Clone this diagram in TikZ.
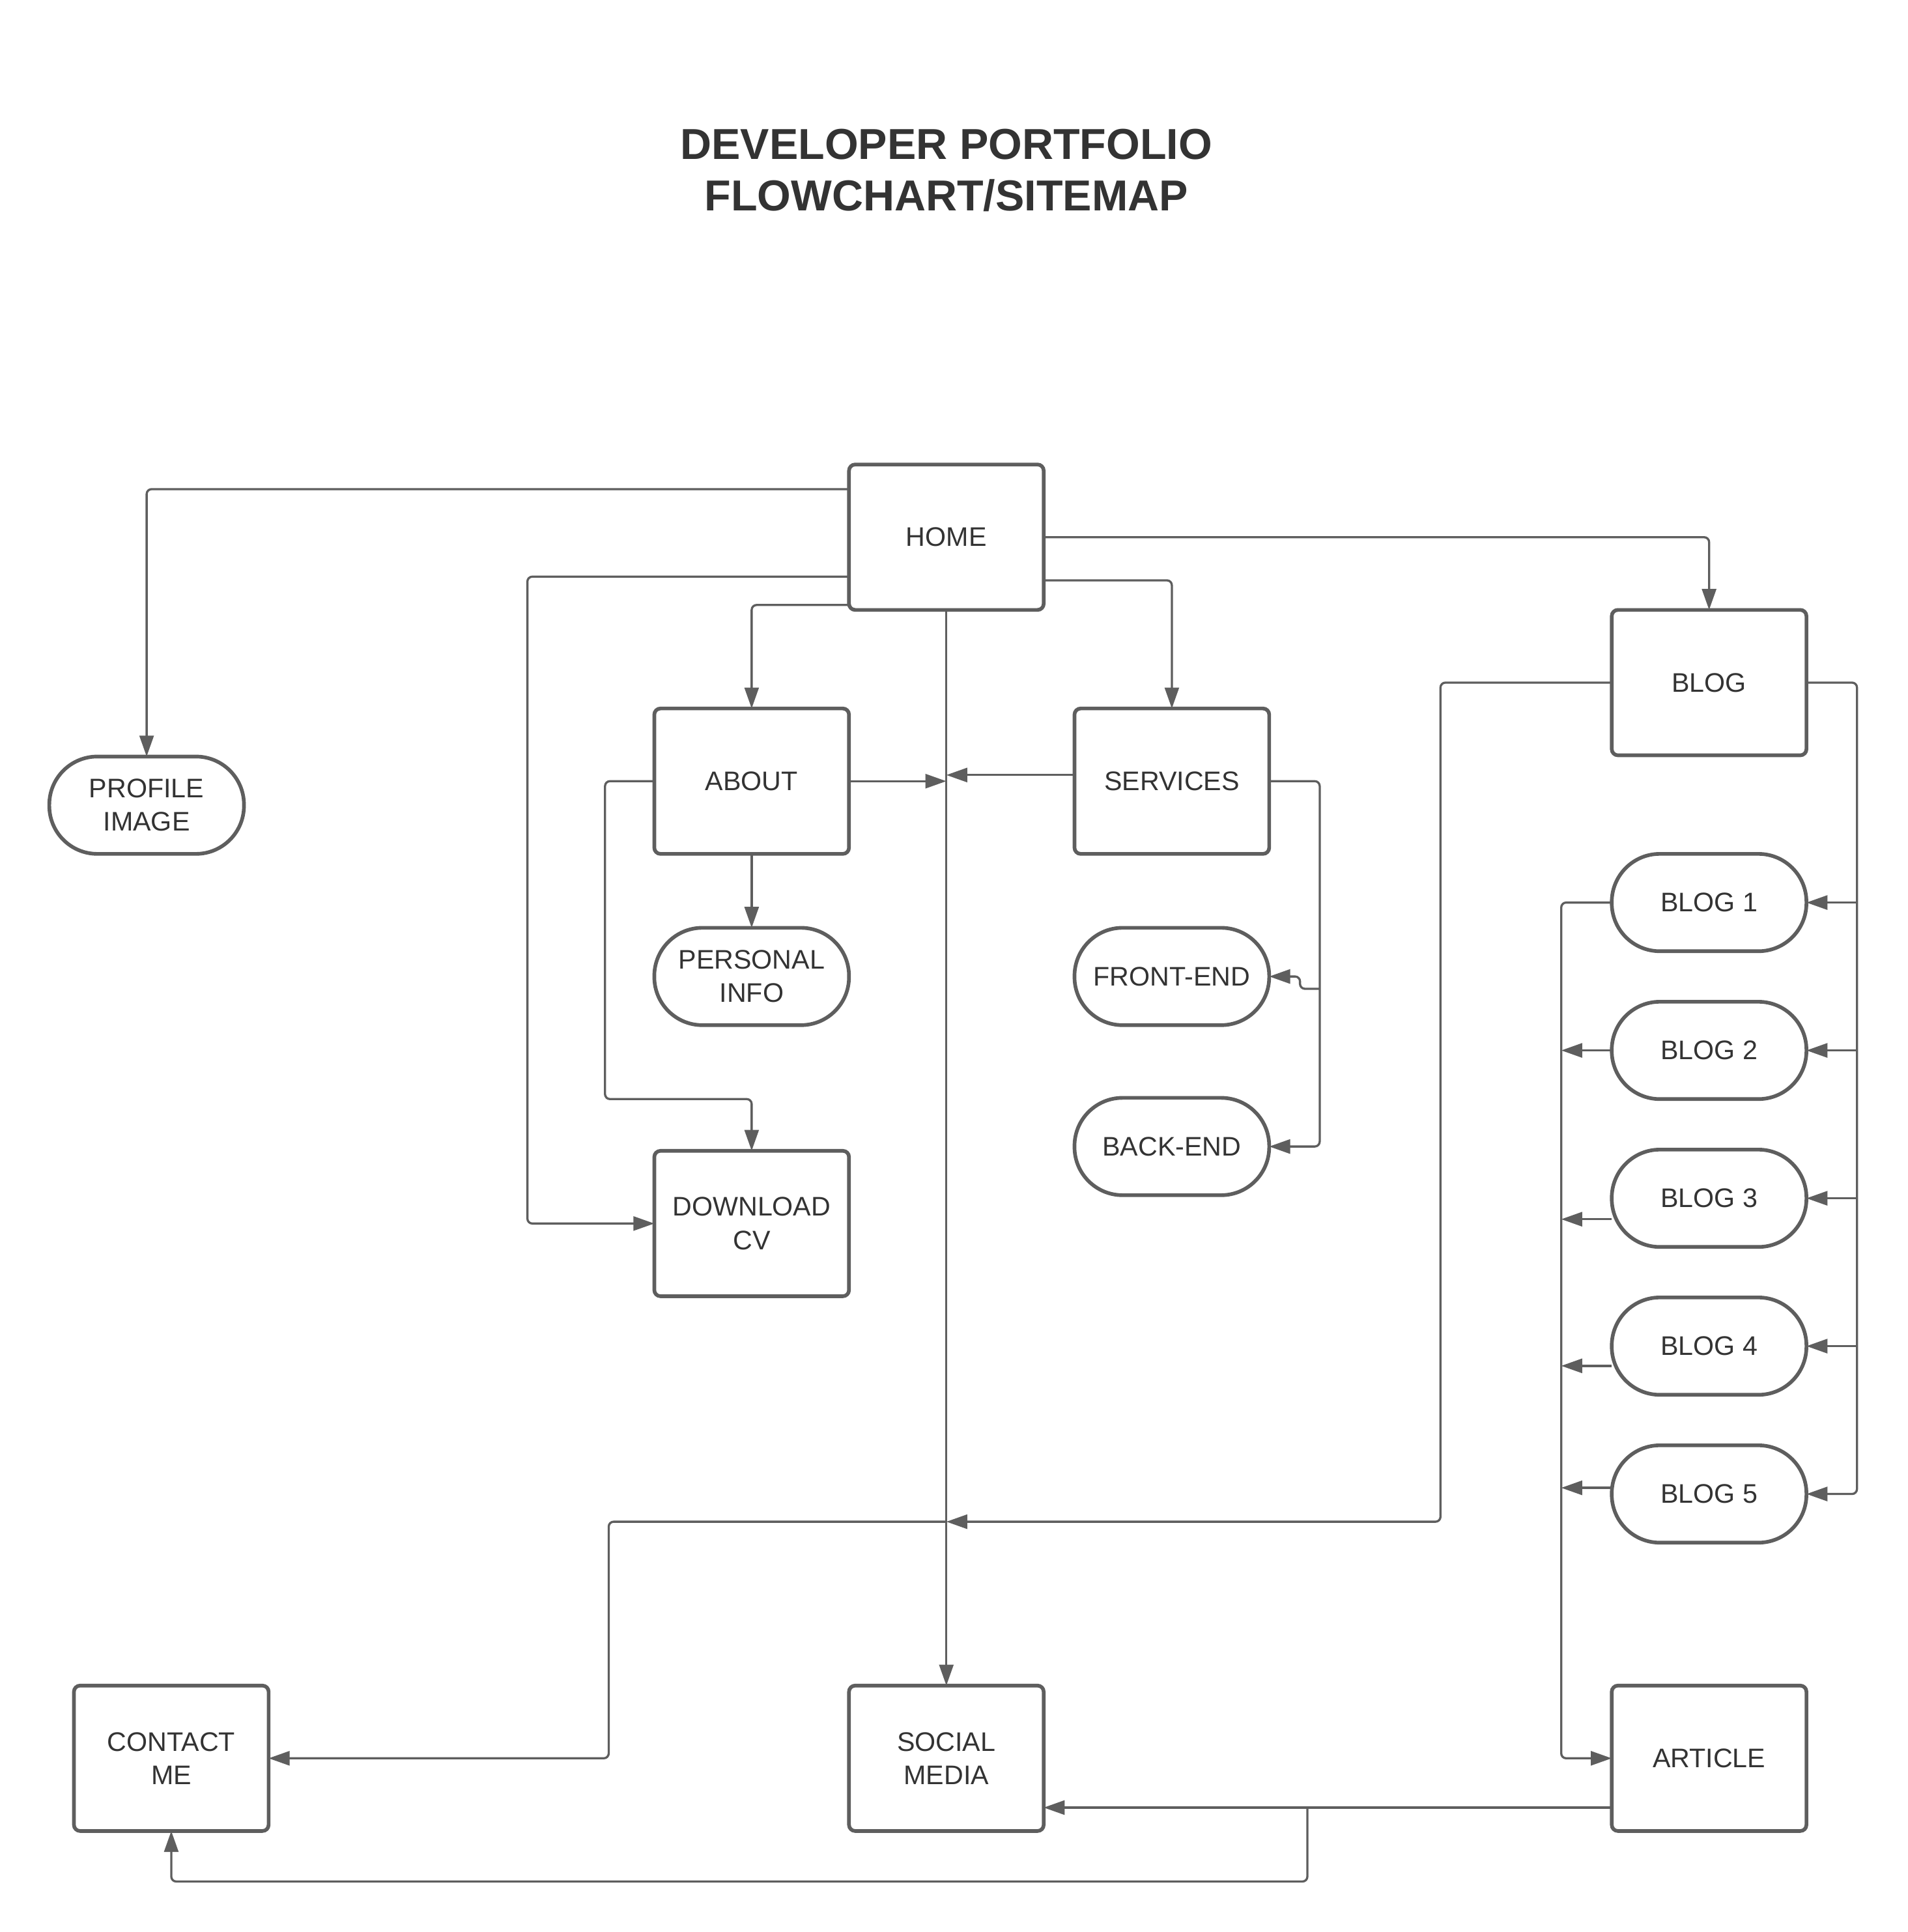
\documentclass[tikz,border=0pt]{standalone}
\usepackage{fontspec}
\setmainfont{Liberation Sans}
\usetikzlibrary{arrows.meta,positioning,calc}
\definecolor{linegray}{HTML}{5E5E5E}
\definecolor{inkgray}{HTML}{333333}
\tikzset{
    page/.style={draw=linegray, line width=1.7pt, rounded corners=0.1cm, minimum width=3.16cm, minimum height=2.36cm, text=inkgray, align=center, font=\fontsize{12.4}{15.4}\selectfont, inner sep=2pt, outer sep=0pt},
    term/.style={page, minimum height=1.58cm, rounded corners=0.78cm},
    link/.style={-{Triangle[length=0.34cm, width=0.23cm]}, draw=linegray, line width=1pt, rounded corners=0.08cm},
    heading/.style={text=inkgray, align=center, font=\fontsize{20}{23.8}\selectfont\bfseries}
}

\begin{document}
\begin{tikzpicture}
            \useasboundingbox (0,0) rectangle (30.96,-31.36);
            \node[heading] (title) at (15.36,-2.76) {DEVELOPER PORTFOLIO\\FLOWCHART/SITEMAP};

            % Home and first level
            \node[page] (home) at (15.36,-8.72) {HOME};
            \node[term, below left=2.38cm and 9.82cm of home] (profile) {PROFILE\\IMAGE};
            \node[page, below left=1.6cm and 0cm of home] (about) {ABOUT};
            \node[page, below right=1.6cm and 0.5cm of home] (services) {SERVICES};
            \node[page, below right=0cm and 9.22cm of home] (blog) {BLOG};

            % About / services children
            \node[term, below=1.2cm of about] (personal) {PERSONAL\\INFO};
            \node[page, below=2.04cm of personal] (download) {DOWNLOAD\\CV};
            \node[term, below=1.2cm of services] (frontend) {FRONT-END};
            \node[term, below=1.18cm of frontend] (backend) {BACK-END};

            % Blog posts
            \node[term, below=1.6cm of blog] (blog1) {BLOG 1};
            \node[term, below=0.82cm of blog1] (blog2) {BLOG 2};
            \node[term, below=0.82cm of blog2] (blog3) {BLOG 3};
            \node[term, below=0.82cm of blog3] (blog4) {BLOG 4};
            \node[term, below=0.82cm of blog4] (blog5) {BLOG 5};

            % Bottom row
            \node[page, below=2.32cm of blog5] (article) {ARTICLE};
            \node[page, left=9.22cm of article] (social) {SOCIAL\\MEDIA};
            \node[page, left=9.42cm of social] (contact) {CONTACT\\ME};

            \coordinate (hub) at (15.36,-24.7);
            \coordinate (srvout) at ([yshift=0.1cm]services.west);
            \coordinate (fejog) at ([xshift=0.82cm,yshift=-0.2cm]frontend.east);
            \coordinate (artout) at ([yshift=-0.8cm]article.west);
            \coordinate (split) at ([xshift=-4.94cm]artout);

            % from home
            \draw[link] ([yshift=0.78cm]home.west) -| (profile.north);
            \draw[link] ([yshift=-0.64cm]home.west) -| ([xshift=-2.06cm]download.west) -- (download.west);
            \draw[link] ([yshift=0.08cm]home.south west) -| (about.north);
            \draw[link] (home.south) -- (social.north);
            \draw[link] ([yshift=-0.7cm]home.east) -| (services.north);
            \draw[link] (home.east) -| (blog.north);

            % about and services
            \draw[link] (about.east) -- (about.east -| home.south);
            \draw[link] (srvout) -- (srvout -| home.south);
            \draw[link] (about.south) -- (personal.north);
            \draw[link] (about.west) -- ++(-0.8,0) |- ([yshift=0.84cm]download.north) -- (download.north);
            \draw[link] (services.east) -- ++(0.82,0) |- (backend.east);
            \draw[link] (fejog) -- ++(-0.32,0) -- ++(0,0.2) -- (frontend.east);

            % blog
            \draw[link] (blog.west) -- ++(-2.78,0) |- (hub);
            \draw[link] (hub) -- ++(-5.48,0) |- (contact.east);
            \draw[link] (blog.east) -- ++(0.82,0) |- (blog5.east);
            \foreach \b in {1,...,4}
                \draw[link] ([xshift=0.82cm]blog\b.east) -- (blog\b.east);
            \draw[link] (blog1.west) -- ++(-0.82,0) |- (article.west);
            \foreach \b/\dy in {2/0,3/-0.34,4/-0.32,5/0.1}
                \draw[link] ([yshift=\dy cm]blog\b.west) -- ++(-0.82,0);

            % article
            \draw[link] (artout) -- (artout -| social.east);
            \draw[link] (split) -- ++(0,-1.2) -| (contact.south);
\end{tikzpicture}
\end{document}
